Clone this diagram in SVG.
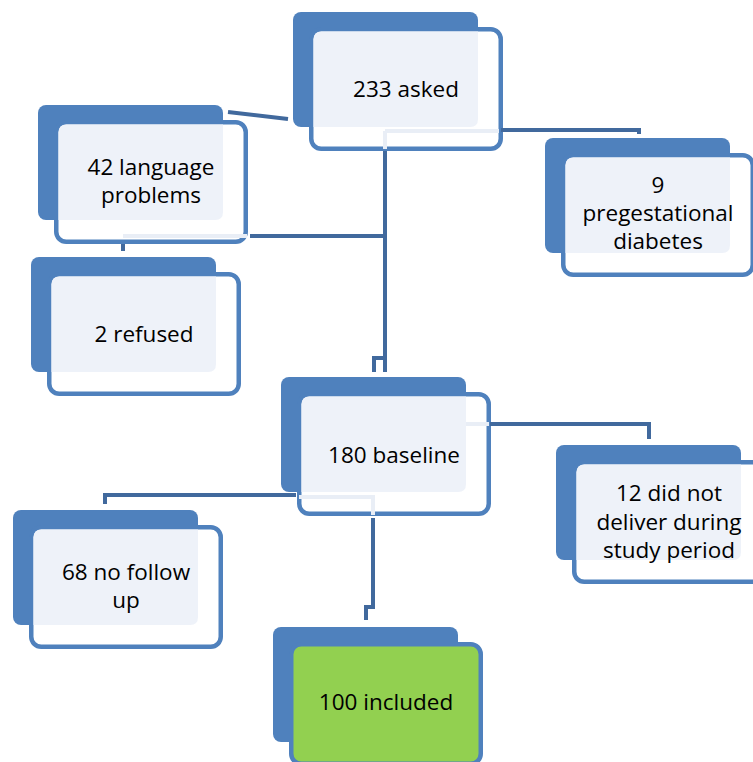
<svg xmlns="http://www.w3.org/2000/svg" xmlns:xlink="http://www.w3.org/1999/xlink" width="753" height="762" viewBox="0 0 753 762">
<style>
.back{fill:#4f81bd}
.front{fill:#ffffff;stroke:#4f81bd;stroke-width:4.5}
.frontg{fill:#92d050;stroke:#4f81bd;stroke-width:4.5}
.light{fill:#eef2f9}
.lbl{font-family:"Open Sans","Noto Sans",sans-serif;font-size:22.5px;fill:#000;text-anchor:middle}
.con{fill:none;stroke:#41699d;stroke-width:4}
.conl{fill:none;stroke:#e9eef6;stroke-width:4}
</style>
<defs>
<g id="card">
<rect class="back" x="0" y="0" width="185" height="115" rx="8"/>
<rect class="front" x="18.25" y="17.25" width="189.5" height="119.5" rx="10"/>
<path class="light" d="M28.5,19.5 H185 V107 Q185,115 177,115 H20.5 V27.5 Q20.5,19.5 28.5,19.5 Z"/>
</g>
</defs>
<rect width="753" height="762" fill="#ffffff"/>
<g id="n-asked" transform="translate(293,12)">
<use xlink:href="#card"/>
<text class="lbl" x="113" y="85">233 asked</text>
</g>
<g id="n-language" transform="translate(38,105)">
<use xlink:href="#card"/>
<text class="lbl" x="113" y="70">42 language</text>
<text class="lbl" x="113" y="98">problems</text>
</g>
<g id="n-refused" transform="translate(31,257)">
<use xlink:href="#card"/>
<text class="lbl" x="113" y="85">2 refused</text>
</g>
<g id="n-diabetes" transform="translate(545,138)">
<use xlink:href="#card"/>
<text class="lbl" x="113" y="55">9</text>
<text class="lbl" x="113" y="83">pregestational</text>
<text class="lbl" x="113" y="111">diabetes</text>
</g>
<g id="n-baseline" transform="translate(281,377)">
<use xlink:href="#card"/>
<text class="lbl" x="113" y="86">180 baseline</text>
</g>
<g id="n-notdeliver" transform="translate(556,445)">
<use xlink:href="#card"/>
<text class="lbl" x="113" y="56">12 did not</text>
<text class="lbl" x="113" y="85">deliver during</text>
<text class="lbl" x="113" y="113">study period</text>
</g>
<g id="n-nofollow" transform="translate(13,510)">
<use xlink:href="#card"/>
<text class="lbl" x="113" y="70">68 no follow</text>
<text class="lbl" x="113" y="98">up</text>
</g>
<g id="n-included" transform="translate(273,627)">
<rect class="back" x="0" y="0" width="185" height="115" rx="8"/>
<rect class="frontg" x="18.25" y="17.25" width="189.5" height="119.5" rx="10"/>
<text class="lbl" x="113" y="83">100 included</text>
</g>
<g id="connectors">
<path class="conl" d="M385,131 H499 M385,131 V149"/>
<path class="con" d="M385,151 V372"/>
<path class="con" d="M385,358 H374 V372"/>
<path class="con" d="M501,130 H639 V134"/>
<path class="conl" d="M247,236 H123"/>
<path class="con" d="M385,236 H250"/>
<path class="con" d="M123,244 V251"/>
<path class="con" d="M228,112 L288,119"/>
<path class="conl" d="M466,424 H489"/>
<path class="con" d="M490,424 H649 V439"/>
<path class="con" d="M296,495 H105 V504"/>
<path class="conl" d="M299,497 H373 V515"/>
<path class="con" d="M373,518 V607 H366 V620"/>
</g>
</svg>
